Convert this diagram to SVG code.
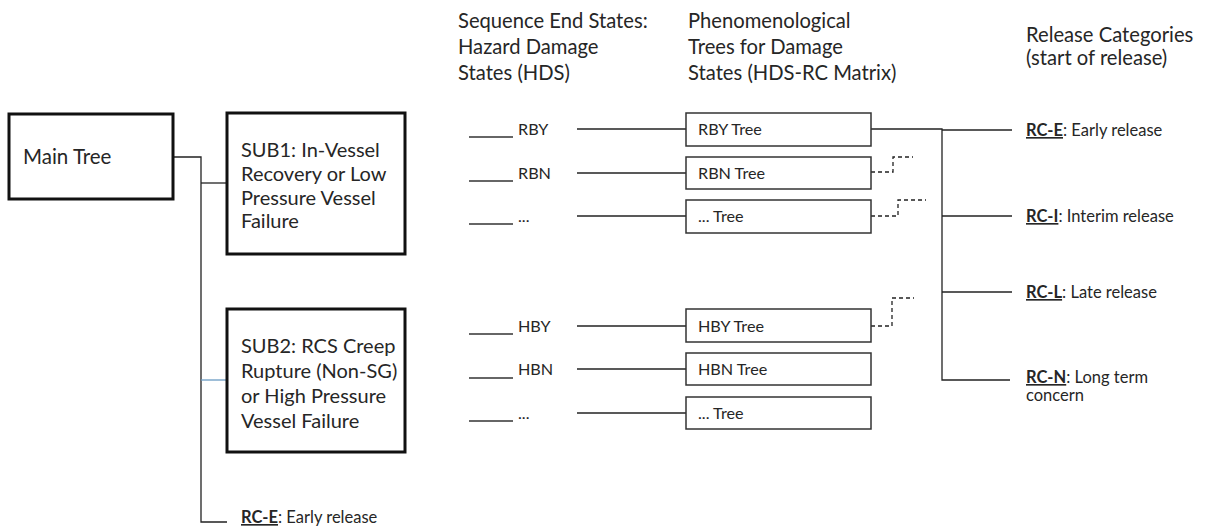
<svg xmlns="http://www.w3.org/2000/svg" width="1208" height="531" viewBox="0 0 1208 531">
<style>
text{font-family:Lato,"Liberation Sans",sans-serif;fill:#262626}
.hd{font-size:20.2px}
.big{font-size:20px}
.mt{font-size:20.5px}
.row{font-size:16.2px}
.rc{font-size:16.5px}
.b{font-weight:bold;text-decoration:underline}
.thick{fill:#fff;stroke:#111;stroke-width:3}
.tb{fill:#fff;stroke:#333;stroke-width:1.5}
.ln{stroke:#222;stroke-width:1.3;fill:none}
.dash{stroke:#222;stroke-width:1.3;fill:none;stroke-dasharray:4 3}
.ul{stroke:#333;stroke-width:1.3}
</style>
<rect width="1208" height="531" fill="#fff"/>
<g id="headers">
<text class="hd" x="458" y="27.5">Sequence End States:</text>
<text class="hd" x="458" y="53.5">Hazard Damage</text>
<text class="hd" x="458" y="79.5">States (HDS)</text>
<text class="hd" x="688" y="27.5">Phenomenological</text>
<text class="hd" x="688" y="53.5">Trees for Damage</text>
<text class="hd" x="688" y="79.5">States (HDS-RC Matrix)</text>
<text class="hd" x="1026" y="42">Release Categories</text>
<text class="hd" x="1026" y="65">(start of release)</text>
</g>
<g id="connectors">
<polyline class="ln" points="173,157 201,157 201,522 227,522"/>
<line class="ln" x1="201" y1="183" x2="227" y2="183"/>
<line x1="201" y1="380" x2="227" y2="380" stroke="#6a9bc3" stroke-width="1.3"/>
<line class="ln" x1="577" y1="129" x2="686" y2="129"/>
<line class="ln" x1="577" y1="173" x2="686" y2="173"/>
<line class="ln" x1="577" y1="216" x2="686" y2="216"/>
<line class="ln" x1="577" y1="326" x2="686" y2="326"/>
<line class="ln" x1="577" y1="369" x2="686" y2="369"/>
<line class="ln" x1="577" y1="413" x2="686" y2="413"/>
<polyline class="ln" points="871,129 942,129 942,380 1010,380"/>
<line class="ln" x1="942" y1="130" x2="1012" y2="130"/>
<line class="ln" x1="942" y1="216" x2="1012" y2="216"/>
<line class="ln" x1="942" y1="292" x2="1012" y2="292"/>
<polyline class="dash" points="871,172 893,172 893,157 913,157"/>
<polyline class="dash" points="871,216 898,216 898,200 926,200"/>
<polyline class="dash" points="871,326 892,326 892,298 914,298"/>
</g>
<g id="main-tree">
<rect class="thick" x="9" y="114" width="164" height="85"/>
<text class="mt" x="23" y="164">Main Tree</text>
</g>
<g id="sub1">
<rect class="thick" x="227" y="113" width="178" height="141"/>
<text class="big" x="241" y="157">SUB1: In-Vessel</text>
<text class="big" x="241" y="181">Recovery or Low</text>
<text class="big" x="241" y="204.5">Pressure Vessel</text>
<text class="big" x="241" y="228">Failure</text>
</g>
<g id="sub2">
<rect class="thick" x="227" y="309" width="178" height="143"/>
<text class="big" x="241" y="353">SUB2: RCS Creep</text>
<text class="big" x="241" y="378">Rupture (Non-SG)</text>
<text class="big" x="241" y="403">or High Pressure</text>
<text class="big" x="241" y="428">Vessel Failure</text>
</g>
<g id="hds-rby"><line class="ul" x1="469" y1="137" x2="513" y2="137"/><text class="row" x="518" y="135">RBY</text></g>
<g id="hds-rbn"><line class="ul" x1="469" y1="181" x2="513" y2="181"/><text class="row" x="518" y="179">RBN</text></g>
<g id="hds-r-more"><line class="ul" x1="469" y1="224" x2="513" y2="224"/><text class="row" x="518" y="222">...</text></g>
<g id="hds-hby"><line class="ul" x1="469" y1="334" x2="513" y2="334"/><text class="row" x="518" y="332">HBY</text></g>
<g id="hds-hbn"><line class="ul" x1="469" y1="378" x2="513" y2="378"/><text class="row" x="518" y="375">HBN</text></g>
<g id="hds-h-more"><line class="ul" x1="469" y1="421" x2="513" y2="421"/><text class="row" x="518" y="419">...</text></g>
<g id="tree-rby"><rect class="tb" x="686" y="113" width="185" height="33"/><text class="row" x="698" y="135">RBY Tree</text></g>
<g id="tree-rbn"><rect class="tb" x="686" y="157" width="185" height="32"/><text class="row" x="698" y="179">RBN Tree</text></g>
<g id="tree-r-more"><rect class="tb" x="686" y="200" width="185" height="33"/><text class="row" x="698" y="222">... Tree</text></g>
<g id="tree-hby"><rect class="tb" x="686" y="309" width="185" height="33"/><text class="row" x="698" y="332">HBY Tree</text></g>
<g id="tree-hbn"><rect class="tb" x="686" y="353" width="185" height="32"/><text class="row" x="698" y="375">HBN Tree</text></g>
<g id="tree-h-more"><rect class="tb" x="686" y="397" width="185" height="32"/><text class="row" x="698" y="419">... Tree</text></g>
<g id="rc-e"><text class="rc" x="1026" y="136"><tspan class="b">RC-E</tspan>: Early release</text></g>
<g id="rc-i"><text class="rc" x="1026" y="222"><tspan class="b">RC-I</tspan>: Interim release</text></g>
<g id="rc-l"><text class="rc" x="1026" y="298"><tspan class="b">RC-L</tspan>: Late release</text></g>
<g id="rc-n"><text class="rc" x="1026" y="383"><tspan class="b">RC-N</tspan>: Long term</text><text class="rc" x="1026" y="401">concern</text></g>
<g id="rc-e-bottom"><text class="rc" x="241" y="523"><tspan class="b">RC-E</tspan>: Early release</text></g>
</svg>
